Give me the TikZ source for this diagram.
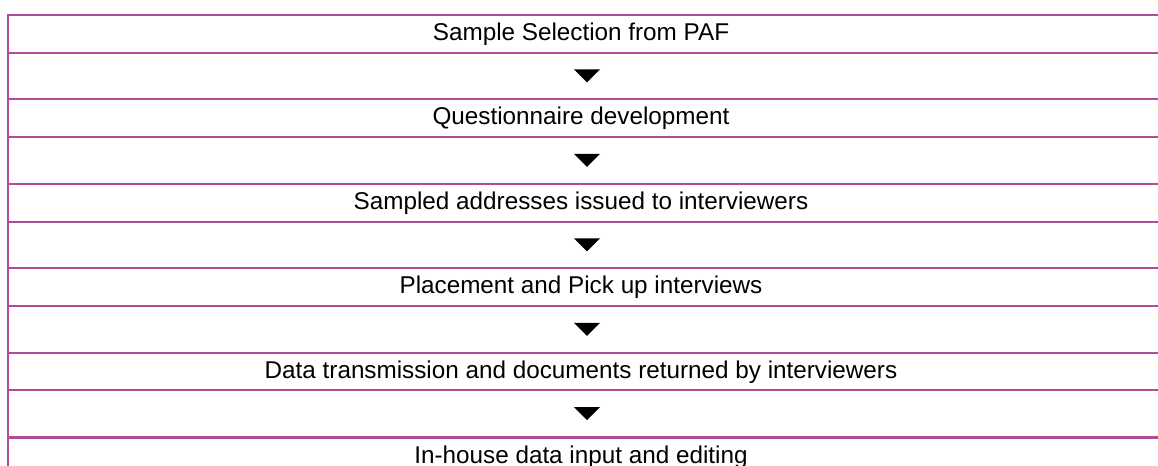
\documentclass[tikz,border=0pt]{standalone}
\usepackage{fontspec}
\setmainfont{Liberation Sans}
\definecolor{rule}{RGB}{177,76,155}
\begin{document}
\begin{tikzpicture}[x=0.75pt,y=-0.75pt,
  rowline/.style={draw=rule,line width=1.6pt},
  steptext/.style={anchor=base,inner sep=0pt,font=\fontsize{18.2}{21}\selectfont},
  downmark/.style={fill=black}]
\useasboundingbox (0,0) rectangle (1158,466);
\clip (0,0) rectangle (1158,466);
\foreach \y in {15,53.3,99,137,184,222,268,306,353,390,437.5}
  \draw[rowline] (8,\y) -- (1170,\y);
\draw[rowline] (8,14.2) -- (8,470);
\node[steptext] (s1) at (581,41) {Sample Selection from PAF};
\node[steptext] (s2) at (581,125) {Questionnaire development};
\node[steptext] (s3) at (581,210) {Sampled addresses issued to interviewers};
\node[steptext] (s4) at (581,294) {Placement and Pick up interviews};
\node[steptext] (s5) at (581,379) {Data transmission and documents returned by interviewers};
\node[steptext] (s6) at (581,463.5) {In-house data input and editing};
\foreach \c in {76.2,160.5,245,329.5,413.75}
  \fill[downmark] (574,\c-6.7) -- (600,\c-6.7) -- (587,\c+6.3) -- cycle;
\end{tikzpicture}
\end{document}
